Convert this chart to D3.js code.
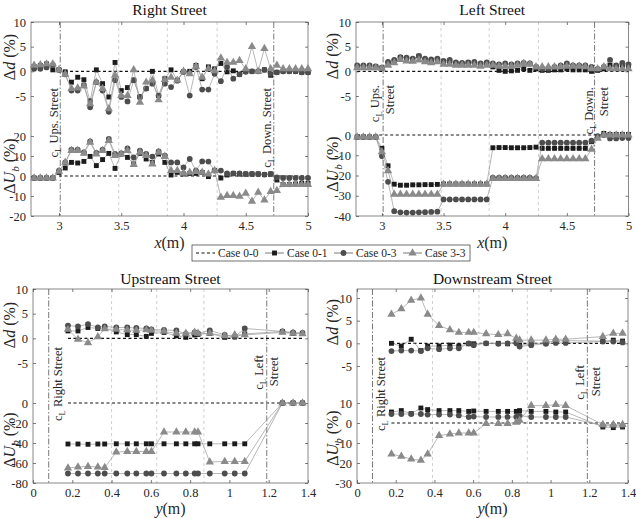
<!DOCTYPE html>
<html>
<head>
<meta charset="utf-8">
<script src="https://cdn.jsdelivr.net/npm/d3@7"></script>
<style>
body { margin: 0; background: #fff; }
</style>
</head>
<body>
<div id="chart"></div>
<script>
// measurement positions along the streets (m)
var xStreet = [2.8,2.85,2.9,2.95,3.0,3.05,3.1,3.15,3.2,3.25,3.3,3.35,3.4,3.45,3.5,3.55,3.6,3.65,3.7,3.75,3.8,3.85,3.9,3.95,4.0,4.05,4.1,4.15,4.2,4.25,4.3,4.35,4.4,4.45,4.5,4.55,4.6,4.65,4.7,4.75,4.8,4.85,4.9,4.95,5.0];
var yStreet = [0.178,0.229,0.28,0.33,0.365,0.424,0.48,0.526,0.577,0.603,0.667,0.73,0.778,0.823,0.84,0.9,0.976,1.027,1.078,1.27,1.324,1.372];

// Right Street
var rightD01 = [1.0,1.2,1.5,0.3, 0.3,-0.1,-2.2,-1.2,-1.7,-6.0,0.3,-2.5,-5.2,1.8, -3.9,-3.3,-1.8,-5.2,-3.5,0.0,-4.9,-1.5, 0.3,-1.8,-0.1,0.0,1.2,-1.5,0.9,0.5, 1.6,-0.1,0.1,-0.6,0.0,0.0,0.0,0.3, -0.8, -0.2,0.0,0.0,0.0,-0.2,-0.2];
var rightD03 = [0.5,0.5,0.8,1.3, 0.3,-0.6,-3.9,-3.9,-2.8,-7.3,-2.2,-3.9,-8.2,-1.8, -5.2,-6.1,-1.8,-5.2,-3.5,-2.5,-4.9,-2.5, -3.2,-1.9,-0.1,-4.9,0.9,-3.7,-3.7,-0.5, -2.0,0.9,-1.5,-0.6,-0.1,0.0,0.0,0.3, -0.5, -0.2,0.0,0.0,0.0,-0.2,-0.2];
var rightD33 = [1.2,1.3,1.5,1.5, 0.3,-0.6,-3.5,-3.4,-3.0,-6.6,-2.2,-3.5,-7.6,-0.8, -4.9,-4.9,0.3,-6.3,-2.2,-1.8,-5.8,-1.7, -1.2,-1.8,0.0,-0.5,1.0,-1.2,0.5,0.1, 2.7,1.8,1.8,2.2,0.5,5.0,0.0,4.6, 0.5, 1.2,0.5,0.5,0.5,0.5,0.5];
var rightU01 = [-1,-1,-1,-1, 1.8,4.0,6.8,6.5,7.3,9.8,5.2,8.2,11.3,3.8, 11.0,9.3,6.0,11.3,8.5,6.8,11.0,6.8, 0.5,1.8,1.0,1.3,1.3,1.8,-0.3,2.7, -1.0,0.5,1.3,1.0,1.0,1.0,1.0,0.7, 1.0, -2.0,-4.3,-4.3,-4.0,-3.7,-3.7];
var rightU03 = [-1,-1,-1,-1, 2.7,6.8,13.2,13.2,11.8,17.3,11.5,13.2,18.5,11.0, 11.3,13.8,9.3,12.7,11.0,9.7,12.3,10.2, 6.8,6.8,4.3,8.5,2.7,7.3,7.2,2.7, 2.7,1.3,1.3,1.3,1.0,1.0,1.0,0.7, 1.0, -0.7,-1.0,-1.0,-1.0,-1.0,-1.0];
var rightU33 = [-1,-1,-1,-1, 2.3,6.8,12.7,12.7,11.3,16.8,11.0,12.7,17.7,10.2, 11.0,12.7,5.7,11.8,10.2,6.0,11.8,9.7, 2.7,2.7,1.3,1.8,2.2,1.8,1.0,2.7, -10.7,-9.8,-9.8,-10.2,-8.7,-12.7,-8.2,-12.0, -7.8, -7.3,-4.3,-4.3,-4.3,-4.3,-4.3];

// Left Street
var leftD01 = [0.9,0.9,0.9,0.9, 0.7,1.6,2.0,2.8,2.6,2.4,3.1,2.1,1.9,2.3, 1.6,1.9,1.6,1.4,1.7,1.6,1.2,1.6, 0.9,0.2,0.0,0.1,0.2,0.5,0.2,0.5, 0.2,0.2,0.3,0.3,0.5,0.3,0.3,0.3, 0.0, 0.2,0.5,1.2,0.9,1.2,0.9];
var leftD03 = [1.2,1.2,1.2,1.0, 0.7,1.9,2.3,2.9,2.8,2.6,3.1,2.6,2.4,2.6, 2.1,2.3,1.8,1.7,1.8,1.9,1.6,1.8, 1.6,1.4,1.6,1.4,1.6,1.7,1.6,0.9, 0.5,0.5,0.9,1.2,1.6,1.2,1.2,1.2, 0.9, 0.5,0.9,2.3,1.2,1.7,1.4];
var leftD33 = [0.7,0.7,0.7,0.7, 0.6,1.2,1.7,2.4,2.1,2.0,2.3,1.9,1.7,1.9, 1.4,1.4,1.2,1.2,1.2,1.2,1.0,1.2, 1.2,1.0,1.0,1.0,1.2,1.6,1.4,0.9, 0.9,0.9,0.9,0.9,1.0,1.0,1.0,0.9, 0.5, 0.5,0.9,0.5,0.5,0.5,0.5];
var leftU01 = [-1,-1,-1,-1, -6.6,-15.2,-24.3,-24.8,-24.8,-24.6,-24.6,-24.5,-24.5,-24.4, -24.2,-24.2,-24.2,-24.2,-24.2,-24.2,-24.2,-24.2, -6.3,-6.2,-6.2,-6.3,-6.3,-6.3,-6.2,-6.0, -6.6,-6.6,-6.6,-6.6,-6.6,-6.6,-6.6,-6.6, -3.3, -0.8,0.8,0.3,0.3,0.3,0.3];
var leftU03 = [-1,-1,-1,-1, -10.4,-23.1,-37.6,-38.2,-38.3,-38.3,-38.2,-38.1,-38.0,-37.9, -31.8,-31.8,-31.8,-31.8,-31.8,-31.8,-31.8,-31.8, -21.0,-21.0,-21.0,-21.0,-21.0,-21.0,-21.0,-21.3, -3.8,-3.8,-3.8,-3.8,-3.8,-3.8,-3.8,-3.8, -2.8, -0.5,0.0,-1.7,-1.7,-1.5,-1.5];
var leftU33 = [-1,-1,-1,-1, -8.3,-17.7,-29.3,-29.3,-29.3,-29.3,-29.3,-29.3,-29.3,-29.3, -24.3,-24.3,-24.3,-24.3,-24.3,-24.3,-24.3,-24.3, -21.5,-21.5,-21.5,-21.5,-21.5,-21.5,-21.5,-21.5, -11.8,-11.8,-11.8,-11.8,-11.8,-11.8,-11.8,-11.8, -7.1, -1.7,0.0,0.0,0.0,0.0,0.0];

// Upstream Street
var upD01 = [1.5,1.5,2.2,2.0,2.0,1.3,0.75,0.75,0.4,1.0,1.2,0.5,0.2,0.7,0.8,1.0,0.2,0.3,0.9,1.4,1.0,1.0];
var upD03 = [2.6,2.4,2.9,2.2,2.4,2.2,2.2,2.1,2.0,1.8,1.7,1.6,0.9,1.2,1.0,1.6,0.7,0.3,2.0,1.4,1.2,1.1];
var upD33 = [1.8,-0.2,-0.9,0.3,1.9,1.8,1.7,1.6,1.7,1.6,1.4,1.0,1.0,1.2,1.0,1.0,0.5,0.7,0.7,1.2,1.0,0.9];
var upU01 = [-41,-41,-41.3,-41,-41,-40.8,-40.8,-40.8,-40.8,-40.8,-40.8,-40.8,-40.8,-40.8,-40.8,-40.8,-40.8,-40.8,-40.8,0,0,0];
var upU03 = [-70.5,-70.5,-70.5,-70.5,-70.5,-70.5,-70.5,-70.5,-70.5,-70.5,-70.5,-70.5,-70.5,-70.5,-70.5,-70.5,-70.5,-70.5,-70.5,0,0,0];
var upU33 = [-65,-64,-63.5,-64,-64.5,-49,-48.5,-48.5,-48.5,-48.5,-29,-29,-29,-29,-29,-59,-58.5,-58.5,-58.5,0,0,0];

// Downstream Street
var downD01 = [0,-0.6,0.9,-1.6,-0.6,-0.6,-0.4,-0.6,-0.1,-0.1,0,0,-0.1,0.4,-0.4,-0.1,0.1,0.6,0.6,0.5,0.7,0.5];
var downD03 = [-1.7,-1.6,-1.6,-1.7,-1.1,-1.3,-1.1,-1.1,0,-0.4,0,-0.1,0,0,-0.7,-0.4,-0.1,0.1,0.1,0.4,0.4,0.2];
var downD33 = [6.4,7.6,9.5,10,6.4,3.9,3,2.4,2.4,2.4,2.1,1.9,2.1,1.1,0.7,0.7,0.7,0.9,0.9,1.5,2.2,2.2];
var downU01 = [5.5,6.2,4.7,7.5,6.7,6.2,6.2,6.2,5.8,6.0,5.8,5.8,5.8,5.8,6.2,5.8,5.8,5.5,5.5,-2,-2.3,-2];
var downU03 = [4.5,4.5,4.5,4.5,4.2,4.2,4.2,3.8,3,3.2,3,3,3,3,3.7,3,3,3,3,-1.3,-1.3,-1.3];
var downU33 = [-15.5,-16.7,-18,-18.7,-15.5,-6.3,-5.5,-5,-5,-5,-0.3,-0.3,-0.3,0.3,1.3,8.7,8.7,9.2,8.7,-0.8,-0.8,-0.8];

// reference lines
var streetLight = [3.48, 3.87, 4.27];
var streetDark = [3.01, 4.725];
var upLight = [0.40, 0.63, 0.87];
var downLight = [0.39, 0.63, 0.88];
var crossDark = [0.08, 1.19];

var caseNames = ["Case 0-0", "Case 0-1", "Case 0-3", "Case 3-3"];

var FONT = "Liberation Serif";

var svg = d3.select("#chart")
    .append("svg")
    .attr("width", 636)
    .attr("height", 519)
    .attr("font-family", FONT);

var markerColor = ["#1c1c1c", "#4d4d4d", "#8a8a8a"];
var markerShape = [d3.symbolSquare, d3.symbolCircle, d3.symbolTriangle];
var markerSize = [24, 26, 30];

function yLabel(g, bx, cy, kind) {
    var t = g.append("text")
        .attr("transform", `translate(${bx},${cy}) rotate(-90)`)
        .attr("text-anchor", "middle")
        .attr("font-family", FONT)
        .attr("fill", "#262626")
        .attr("font-size", 16);
    t.append("tspan").text("\u0394");
    if (kind === "d") {
        t.append("tspan").attr("font-style", "italic").text("d");
        t.append("tspan").text(" (%)");
    } else {
        t.append("tspan").attr("font-style", "italic").text("U");
        t.append("tspan").attr("font-style", "italic").attr("font-size", 11).attr("dy", 4).text("b");
        t.append("tspan").attr("dy", -4).text(" (%)");
    }
}

function drawPanel(p) {
    var g = svg.append("g");
    var x = d3.scaleLinear().domain(p.xDomain).range(p.xRange);
    var yd = d3.scaleLinear().domain(p.dDomain).range(p.dRange);
    var yu = d3.scaleLinear().domain(p.uDomain).range(p.uRange);

    // vertical reference lines
    p.light.forEach(function(v) {
        g.append("line")
            .attr("x1", x(v)).attr("x2", x(v))
            .attr("y1", p.top).attr("y2", p.bottom)
            .attr("stroke", "#c4c4c4")
            .attr("stroke-width", 0.8)
            .attr("stroke-dasharray", "3,3");
    });
    p.dark.forEach(function(v) {
        g.append("line")
            .attr("x1", x(v)).attr("x2", x(v))
            .attr("y1", p.top).attr("y2", p.bottom)
            .attr("stroke", "#6a6a6a")
            .attr("stroke-width", 0.9)
            .attr("stroke-dasharray", "6,2,1.5,2");
    });

    // axes
    function style(ax) {
        ax.attr("font-family", FONT).attr("font-size", 12).attr("color", "#262626");
        ax.select(".domain").remove();
        ax.selectAll("text").attr("font-family", FONT).attr("font-size", 12.5);
        ax.selectAll("line").attr("stroke-width", 0.6);
    }
    var fmt = function(d) { return String(d); };
    g.append("g").attr("transform", `translate(${p.xRange[0]},0)`)
        .call(d3.axisLeft(yd).tickValues(p.dTicks).tickSize(-3).tickPadding(5).tickFormat(fmt)).call(style);
    g.append("g").attr("transform", `translate(${p.xRange[0]},0)`)
        .call(d3.axisLeft(yu).tickValues(p.uTicks).tickSize(-3).tickPadding(5).tickFormat(fmt)).call(style);
    g.append("g").attr("transform", `translate(${p.xRange[1]},0)`)
        .call(d3.axisRight(yd).tickValues(p.dTicks).tickSize(-3).tickFormat("")).call(style);
    g.append("g").attr("transform", `translate(${p.xRange[1]},0)`)
        .call(d3.axisRight(yu).tickValues(p.uTicks).tickSize(-3).tickFormat("")).call(style);
    g.append("g").attr("transform", `translate(0,${p.bottom})`)
        .call(d3.axisBottom(x).tickValues(p.xTicks).tickSize(-3).tickPadding(5).tickFormat(fmt)).call(style);
    g.append("g").attr("transform", `translate(0,${p.top})`)
        .call(d3.axisTop(x).tickValues(p.xTicks).tickSize(-3).tickFormat("")).call(style);

    g.append("rect")
        .attr("x", p.xRange[0]).attr("y", p.top)
        .attr("width", p.xRange[1] - p.xRange[0])
        .attr("height", p.bottom - p.top)
        .attr("fill", "none")
        .attr("stroke", "#555")
        .attr("stroke-width", 0.7);

    // Case 0-0 baseline
    var ext = d3.extent(p.xs);
    [yd, yu].forEach(function(sc) {
        g.append("line")
            .attr("x1", x(p.base0)).attr("x2", x(ext[1]))
            .attr("y1", sc(0)).attr("y2", sc(0))
            .attr("stroke", "#111")
            .attr("stroke-width", 1.1)
            .attr("stroke-dasharray", "3,2.5");
    });

    // series
    [0, 1, 2].forEach(function(s) {
        [[p.d[s], yd], [p.u[s], yu]].forEach(function(pair) {
            var vals = pair[0], sc = pair[1];
            var line = d3.line()
                .x(function(d, i) { return x(p.xs[i]); })
                .y(function(d) { return sc(d); });
            g.append("path")
                .datum(vals)
                .attr("d", line)
                .attr("fill", "none")
                .attr("stroke", "#9a9a9a")
                .attr("stroke-width", 0.7);
            g.selectAll(null)
                .data(vals)
                .enter()
                .append("path")
                .attr("d", d3.symbol().type(markerShape[s]).size(markerSize[s]))
                .attr("transform", function(d, i) { return `translate(${x(p.xs[i])},${sc(d)})`; })
                .attr("fill", markerColor[s]);
        });
    });

    // annotations
    p.notes.forEach(function(n) {
        var t = g.append("text")
            .attr("transform", `translate(${n.bx},${n.y}) rotate(-90)`)
            .attr("text-anchor", "end")
            .attr("font-family", FONT)
            .attr("fill", "#262626")
            .attr("font-size", 12.5);
        if (n.cl) {
            t.append("tspan").text("c");
            t.append("tspan").attr("font-size", 8.5).attr("dy", 3).text("L");
            t.append("tspan").attr("dy", -3).text(n.txt);
        } else {
            t.text(n.txt);
        }
    });

    // titles and labels
    var cx = (p.xRange[0] + p.xRange[1]) / 2;
    g.append("text")
        .attr("x", cx).attr("y", p.titleY)
        .attr("text-anchor", "middle")
        .attr("font-family", FONT)
        .attr("fill", "#111")
        .attr("font-size", 15.5)
        .text(p.title);
    var xl = g.append("text")
        .attr("x", cx).attr("y", p.xlabY)
        .attr("text-anchor", "middle")
        .attr("font-family", FONT)
        .attr("fill", "#262626")
        .attr("font-size", 16);
    xl.append("tspan").attr("font-style", "italic").text(p.xlab);
    xl.append("tspan").text("(m)");

    yLabel(g, p.ylabX, p.ylabD, "d");
    yLabel(g, p.ylabX, p.ylabU, "u");
}

var panels = [
    {title: "Right Street", xlab: "x", xs: xStreet, base0: 3.0,
     xDomain: [2.775, 5], xRange: [31, 308], top: 22, bottom: 216,
     dDomain: [-5, 10], dRange: [96, 22], uDomain: [-20, 20], uRange: [216, 136],
     dTicks: [10, 5, 0, -5], uTicks: [20, 10, 0, -10, -20], xTicks: [3, 3.5, 4, 4.5, 5],
     d: [rightD01, rightD03, rightD33], u: [rightU01, rightU03, rightU33],
     light: streetLight, dark: streetDark,
     notes: [{bx: 58, y: 88, cl: true, txt: " Ups. Street"}, {bx: 271, y: 88, cl: true, txt: " Down. Street"}],
     titleY: 15, xlabY: 248, ylabX: 15, ylabD: 57, ylabU: 166},
    {title: "Left Street", xlab: "x", xs: xStreet, base0: 2.8,
     xDomain: [2.79, 5], xRange: [356, 628.5], top: 22, bottom: 216,
     dDomain: [-5, 10], dRange: [96, 22], uDomain: [-40, 0], uRange: [216, 135],
     dTicks: [10, 5, 0, -5], uTicks: [0, -10, -20, -30, -40], xTicks: [3, 3.5, 4, 4.5, 5],
     d: [leftD01, leftD03, leftD33], u: [leftU01, leftU03, leftU33],
     light: streetLight, dark: streetDark,
     notes: [{bx: 379, y: 85, cl: true, txt: " Ups."}, {bx: 394, y: 85, cl: false, txt: "Street"},
             {bx: 593, y: 87, cl: true, txt: " Down."}, {bx: 608, y: 87, cl: false, txt: "Street"}],
     titleY: 15, xlabY: 248, ylabX: 338, ylabD: 56, ylabU: 164},
    {title: "Upstream Street", xlab: "y", xs: yStreet, base0: 0.178,
     xDomain: [0, 1.4], xRange: [33, 308], top: 289, bottom: 483,
     dDomain: [-5, 10], dRange: [363, 289], uDomain: [-80, 0], uRange: [483, 403],
     dTicks: [10, 5, 0, -5], uTicks: [0, -20, -40, -60, -80], xTicks: [0, 0.2, 0.4, 0.6, 0.8, 1, 1.2, 1.4],
     d: [upD01, upD03, upD33], u: [upU01, upU03, upU33],
     light: upLight, dark: crossDark,
     notes: [{bx: 62, y: 347, cl: true, txt: " Right Street"}, {bx: 263, y: 355, cl: true, txt: " Left"},
             {bx: 278, y: 357, cl: false, txt: "Street"}],
     titleY: 284, xlabY: 514, ylabX: 15, ylabD: 325, ylabU: 440},
    {title: "Downstream Street", xlab: "y", xs: yStreet, base0: 0.178,
     xDomain: [0, 1.4], xRange: [357, 628], top: 289, bottom: 483,
     dDomain: [-5, 10], dRange: [366, 298], uDomain: [-30, 10], uRange: [483, 403],
     dTicks: [10, 5, 0, -5], uTicks: [10, 0, -10, -20, -30], xTicks: [0, 0.2, 0.4, 0.6, 0.8, 1, 1.2, 1.4],
     d: [downD01, downD03, downD33], u: [downU01, downU03, downU33],
     light: downLight, dark: crossDark,
     notes: [{bx: 385, y: 357, cl: true, txt: " Right Street"}, {bx: 584, y: 365, cl: true, txt: " Left"},
             {bx: 600, y: 367, cl: false, txt: "Street"}],
     titleY: 284, xlabY: 514, ylabX: 338, ylabD: 322, ylabU: 438}
];

panels.forEach(drawPanel);

// legend
var legend = svg.append("g").attr("transform", "translate(192,245)");
legend.append("rect")
    .attr("width", 278).attr("height", 16)
    .attr("fill", "#fff")
    .attr("stroke", "#333")
    .attr("stroke-width", 0.7);
caseNames.forEach(function(name, i) {
    var ex = 4 + i * 69;
    var item = legend.append("g").attr("transform", `translate(${ex},8)`);
    if (i === 0) {
        item.append("line").attr("x1", 0).attr("x2", 19)
            .attr("stroke", "#111").attr("stroke-width", 1.1).attr("stroke-dasharray", "3,2.5");
    } else {
        item.append("line").attr("x1", 0).attr("x2", 19)
            .attr("stroke", "#555").attr("stroke-width", 0.8);
        item.append("path")
            .attr("d", d3.symbol().type(markerShape[i - 1]).size(markerSize[i - 1]))
            .attr("transform", "translate(9.5,0)")
            .attr("fill", markerColor[i - 1]);
    }
    item.append("text")
        .attr("x", 22).attr("y", 4)
        .attr("font-family", FONT)
        .attr("fill", "#262626")
        .attr("font-size", 11.5)
        .text(name);
});
</script>
</body>
</html>
